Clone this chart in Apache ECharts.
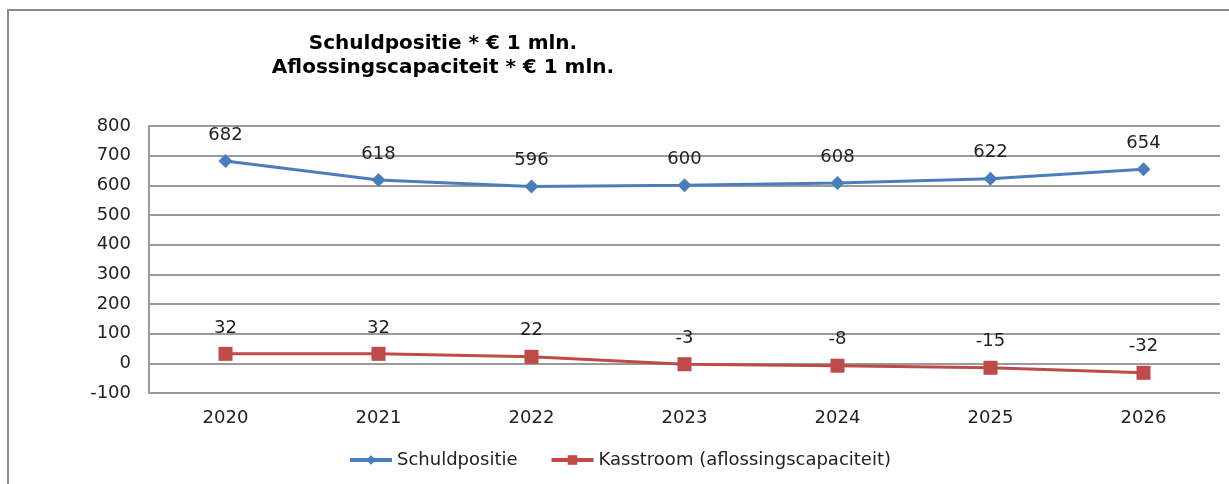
<!DOCTYPE html>
<html>
<head>
<meta charset="utf-8">
<script src="https://cdn.jsdelivr.net/npm/echarts@6/dist/echarts.min.js"></script>
<style>
  html, body { margin: 0; padding: 0; background: #fff; }
  #frame { position: absolute; left: 7px; top: 9px; width: 1222px; height: 475px;
           border-left: 2px solid #8c8c8c; border-top: 2px solid #8c8c8c; }
  #chart { width: 1229px; height: 484px; position: absolute; left: 0; top: 0; }
</style>
</head>
<body>
<div id="frame"></div>
<div id="chart"></div>
<script>
var years = ['2020', '2021', '2022', '2023', '2024', '2025', '2026'];
var schuld = [682, 618, 596, 600, 608, 622, 654];
var kasstroom = [32, 32, 22, -3, -8, -15, -32];
var yTicks = [-100, 800, 100]; // min, max, interval

var chart = echarts.init(document.getElementById('chart'));
var font = '"DejaVu Sans", Verdana, sans-serif';
var option = {
    animation: false,
    textStyle: { fontFamily: font },
    title: {
        text: 'Schuldpositie * € 1 mln.\nAflossingscapaciteit * € 1 mln.',
        left: 438,
        top: 27,
        textAlign: 'center',
        textStyle: { fontSize: 20, fontWeight: 'bold', color: '#000', lineHeight: 24, fontFamily: font }
    },
    legend: {
        bottom: 10,
        left: 343,
        itemGap: 32,
        itemWidth: 42,
        itemHeight: 12,
        lineStyle: { width: 4 },
        textStyle: { fontSize: 18, color: '#222', fontFamily: font },
        data: ['Schuldpositie', 'Kasstroom (aflossingscapaciteit)']
    },
    grid: { left: 149, right: 9, top: 126, bottom: 91 },
    xAxis: {
        type: 'category',
        data: years,
        boundaryGap: true,
        axisLine: { show: false },
        axisTick: { show: false },
        axisLabel: { fontSize: 18, color: '#222', margin: 16, fontFamily: font }
    },
    yAxis: {
        type: 'value',
        min: yTicks[0],
        max: yTicks[1],
        interval: yTicks[2],
        axisLine: { show: true, lineStyle: { color: '#9a9a9a', width: 2 } },
        axisTick: { show: false },
        axisLabel: { fontSize: 18, color: '#222', margin: 18, fontFamily: font },
        splitLine: { lineStyle: { color: '#9a9a9a', width: 2 } }
    },
    series: [
        {
            name: 'Schuldpositie',
            type: 'line',
            data: schuld,
            symbol: 'diamond',
            symbolSize: 14,
            itemStyle: { color: '#4a7ebb' },
            lineStyle: { color: '#4a7ebb', width: 3 },
            label: { show: true, position: 'top', distance: 10, fontSize: 18, color: '#222', fontFamily: font }
        },
        {
            name: 'Kasstroom (aflossingscapaciteit)',
            type: 'line',
            data: kasstroom,
            symbol: 'rect',
            symbolSize: 14,
            itemStyle: { color: '#be4b48' },
            lineStyle: { color: '#be4b48', width: 3 },
            label: { show: true, position: 'top', distance: 10, fontSize: 18, color: '#222', fontFamily: font }
        }
    ]
};
chart.setOption(option);
</script>
</body>
</html>
